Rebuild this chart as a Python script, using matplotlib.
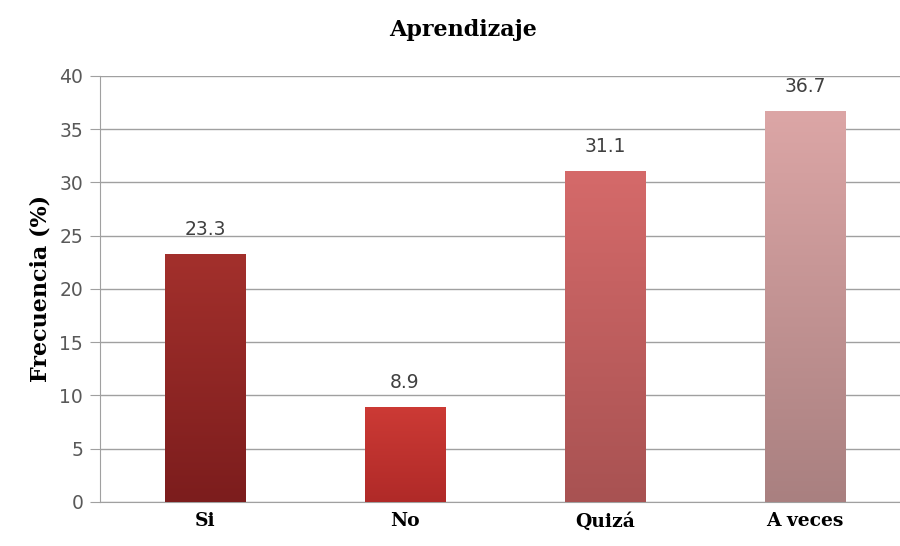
import matplotlib
matplotlib.use("Agg")
import matplotlib.pyplot as plt
import numpy as np
from matplotlib.colors import LinearSegmentedColormap

categories = ["Si", "No", "Quizá", "A veces"]
values = [23.3, 8.9, 31.1, 36.7]
top_colors = ["#a3302c", "#cc3a35", "#d56a6a", "#dca6a6"]
bottom_colors = ["#7c1d1d", "#b02a28", "#a85252", "#a98080"]
yticks = [0, 5, 10, 15, 20, 25, 30, 35, 40]

fig = plt.figure(figsize=(9, 5.46), dpi=100)
ax = fig.add_axes([0.111, 0.0806, 0.889, 0.7805])

x = np.arange(len(categories))
width = 0.40
bars = ax.bar(x, values, width=width, color=top_colors, zorder=2)
for b, tc, bc in zip(bars, top_colors, bottom_colors):
    cmap = LinearSegmentedColormap.from_list("g", [bc, tc])
    grad = np.linspace(0, 1, 256).reshape(-1, 1)
    im = ax.imshow(grad, cmap=cmap, aspect="auto", origin="lower",
                   extent=[b.get_x(), b.get_x() + b.get_width(), 0, b.get_height()],
                   zorder=3)
    im.set_clip_path(b)

for xi, v in zip(x, values):
    ax.text(xi, v + 1.4, f"{v}", ha="center", va="bottom", fontsize=13.5,
            color="#404040", family="DejaVu Sans", zorder=4)

ax.set_xlim(-0.525, 3.475)
ax.set_ylim(0, 40)
ax.set_yticks(yticks)
ax.yaxis.grid(True, color="#a0a0a0", linewidth=1.0, zorder=0)
ax.set_axisbelow(True)
ax.set_xticks(x)
ax.set_xticklabels(categories, family="DejaVu Serif", fontweight="bold", fontsize=13.5)
ax.tick_params(axis="x", length=0, pad=7)
ax.tick_params(axis="y", length=7, color="#a0a0a0", labelcolor="#595959", labelsize=13.5, pad=5)
for lbl in ax.get_yticklabels():
    lbl.set_family("DejaVu Sans")
for s in ["top", "right"]:
    ax.spines[s].set_visible(False)
ax.spines["left"].set_color("#a0a0a0")
ax.spines["bottom"].set_color("#a0a0a0")

ax.set_ylabel("Frecuencia (%)", family="DejaVu Serif", fontweight="bold", fontsize=16, labelpad=6)
fig.text(0.515, 0.945, "Aprendizaje", ha="center", va="center", family="DejaVu Serif",
         fontweight="bold", fontsize=16)

fig.savefig("out.png", dpi=100)
